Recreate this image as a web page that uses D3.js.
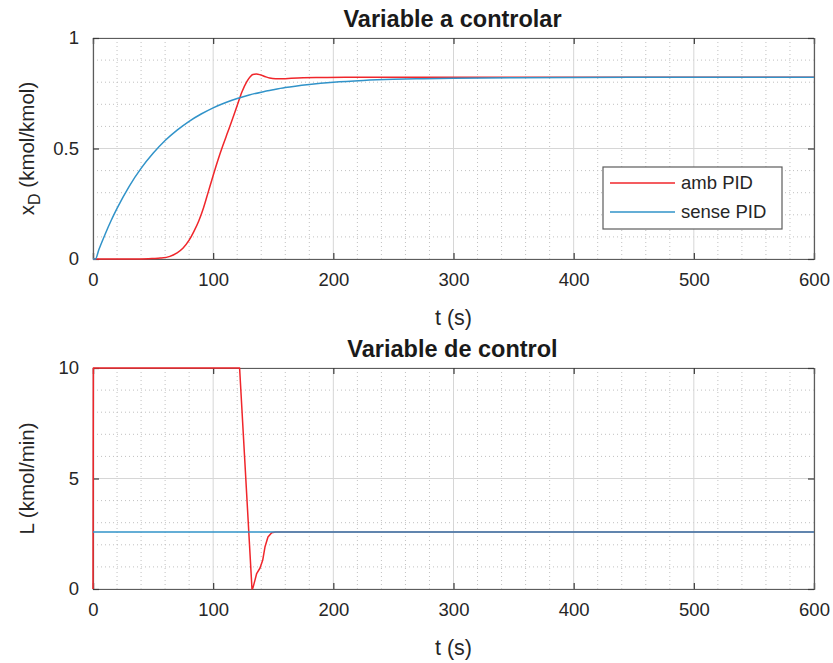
<!DOCTYPE html>
<html>
<head>
<meta charset="utf-8">
<script src="https://cdn.jsdelivr.net/npm/d3@7"></script>
<style>
  html, body { margin: 0; padding: 0; background: #fff; }
  svg { display: block; font-family: "Liberation Sans", Arial, Helvetica, sans-serif; }
</style>
</head>
<body>
<svg id="chart" width="833" height="663"></svg>
<script>
// Controlled variable x_D: closed loop with PID ("amb PID") and without it ("sense PID")
const tRedX = [0, 20, 40, 50, 56, 64, 70, 75, 80, 84, 88, 92, 96, 100, 104, 108, 112, 116, 120, 124, 128, 131, 133, 136, 139, 143, 147, 152, 158, 165, 175, 190, 210, 250, 300, 400, 500, 600];
const xRed  = [0, 0, 0, 0.002, 0.004, 0.012, 0.028, 0.05, 0.085, 0.125, 0.172, 0.232, 0.305, 0.378, 0.448, 0.512, 0.572, 0.632, 0.695, 0.757, 0.803, 0.826, 0.835, 0.837, 0.834, 0.826, 0.819, 0.816, 0.816, 0.818, 0.82, 0.821, 0.822, 0.822, 0.822, 0.822, 0.822, 0.822];
const tBlueX = [0, 2, 5, 10, 15, 20, 30, 40, 50, 60, 70, 80, 90, 100, 110, 120, 130, 140, 150, 160, 180, 200, 225, 250, 275, 300, 350, 400, 500, 600];
const xBlue  = [0, 0, 0.044, 0.111, 0.173, 0.229, 0.328, 0.41, 0.478, 0.536, 0.583, 0.623, 0.656, 0.684, 0.707, 0.726, 0.742, 0.755, 0.766, 0.776, 0.79, 0.8, 0.808, 0.813, 0.816, 0.818, 0.8205, 0.8215, 0.822, 0.822];

// Manipulated variable L (reflux flow)
const tRedL = [0, 0.3, 122, 132.3, 133.1, 134.8, 136.2, 139, 141.2, 143.1, 145.6, 148.7, 152, 600];
const lRed  = [0, 10, 10, 0, 0.05, 0.4, 0.7, 0.95, 1.3, 1.9, 2.35, 2.55, 2.58, 2.58];
const tBlueL = [0, 600];
const lBlue  = [2.58, 2.58];

const xTicks = [0, 100, 200, 300, 400, 500, 600];
const yTicksTop = [0, 0.5, 1];
const yTickLabelsTop = ["0", "0.5", "1"];
const yTicksBot = [0, 5, 10];
const yTickLabelsBot = ["0", "5", "10"];
const seriesNames = ["amb PID", "sense PID"];
const seriesColors = ["#f0262b", "#3193c9"];

const svg = d3.select("#chart");
const left = 93, right = 814;

function panel(opts) {
  const g = svg.append("g");
  const x = d3.scaleLinear().domain([0, 600]).range([left, right]);
  const y = d3.scaleLinear().domain(opts.yDomain).range([opts.bottom, opts.top]);

  // minor grid (dotted)
  const xMinor = d3.range(0, 601, 20).filter(v => v % 100 !== 0);
  const yMinor = d3.range(opts.yDomain[0], opts.yDomain[1] + 1e-9, opts.yMinorStep)
    .filter(v => !opts.yTicks.some(t => Math.abs(t - v) < 1e-9));
  g.append("g").selectAll("line").data(xMinor).join("line")
    .attr("x1", d => x(d)).attr("x2", d => x(d))
    .attr("y1", opts.top).attr("y2", opts.bottom)
    .attr("stroke", "#c0c0c0").attr("stroke-width", 1).attr("stroke-dasharray", "1,3");
  g.append("g").selectAll("line").data(yMinor).join("line")
    .attr("x1", left).attr("x2", right)
    .attr("y1", d => y(d)).attr("y2", d => y(d))
    .attr("stroke", "#c0c0c0").attr("stroke-width", 1).attr("stroke-dasharray", "1,3");

  // major grid
  g.append("g").selectAll("line").data(xTicks).join("line")
    .attr("x1", d => x(d)).attr("x2", d => x(d))
    .attr("y1", opts.top).attr("y2", opts.bottom)
    .attr("stroke", "#d6d6d6").attr("stroke-width", 1);
  g.append("g").selectAll("line").data(opts.yTicks).join("line")
    .attr("x1", left).attr("x2", right)
    .attr("y1", d => y(d)).attr("y2", d => y(d))
    .attr("stroke", "#d6d6d6").attr("stroke-width", 1);

  // axes with inward ticks on all four sides
  const tickLen = 6;
  const axB = d3.axisBottom(x).tickValues(xTicks).tickSize(-tickLen).tickPadding(14).tickFormat(d3.format("d"));
  const axT = d3.axisTop(x).tickValues(xTicks).tickSize(-tickLen).tickFormat("");
  const axL = d3.axisLeft(y).tickValues(opts.yTicks).tickSize(-tickLen).tickPadding(14)
    .tickFormat((d, i) => opts.yTickLabels[i]);
  const axR = d3.axisRight(y).tickValues(opts.yTicks).tickSize(-tickLen).tickFormat("");

  [[axB, `translate(0,${opts.bottom})`], [axT, `translate(0,${opts.top})`],
   [axL, `translate(${left},0)`], [axR, `translate(${right},0)`]].forEach(([ax, tr]) => {
    const a = g.append("g").attr("transform", tr).call(ax);
    a.select(".domain").attr("stroke", "#5c5c5c").attr("stroke-width", 1.2);
    a.selectAll(".tick line").attr("stroke", "#3a3a3a").attr("stroke-width", 1.2);
    a.selectAll(".tick text").attr("fill", "#262626").attr("font-size", 18.5)
      .attr("font-family", "'Liberation Sans', Arial, sans-serif");
  });

  // series, drawn over the axes box
  const line = d3.line().x(d => x(d[0])).y(d => y(d[1])).curve(opts.curve);
  opts.series.forEach((s, i) => {
    g.append("path")
      .datum(d3.zip(s.t, s.v))
      .attr("d", line)
      .attr("fill", "none")
      .attr("stroke", seriesColors[i])
      .attr("stroke-width", 1.5)
      .attr("stroke-linejoin", "round");
  });

  // title
  g.append("text").attr("x", (left + right) / 2 - 1).attr("y", opts.top - 11)
    .attr("text-anchor", "middle").attr("font-weight", "bold").attr("font-size", 23.5)
    .attr("fill", "#1a1a1a").text(opts.title);

  // x label
  g.append("text").attr("x", (left + right) / 2).attr("y", opts.bottom + 66)
    .attr("text-anchor", "middle").attr("font-size", 21.5).attr("fill", "#262626").text("t (s)");

  // y label
  const yl = g.append("text")
    .attr("transform", `translate(34,${(opts.top + opts.bottom) / 2}) rotate(-90)`)
    .attr("text-anchor", "middle").attr("font-size", 20.5).attr("fill", "#262626");
  opts.yLabel(yl);

  return { g, x, y };
}

const topPanel = panel({
  top: 38, bottom: 259, yDomain: [0, 1], yTicks: yTicksTop, yTickLabels: yTickLabelsTop, yMinorStep: 0.1,
  title: "Variable a controlar", curve: d3.curveMonotoneX,
  series: [{ t: tRedX, v: xRed }, { t: tBlueX, v: xBlue }],
  yLabel: t => {
    t.append("tspan").text("x");
    t.append("tspan").attr("font-size", 16).attr("dy", 6).text("D");
    t.append("tspan").attr("dy", -6).text(" (kmol/kmol)");
  }
});

panel({
  top: 368, bottom: 589, yDomain: [0, 10], yTicks: yTicksBot, yTickLabels: yTickLabelsBot, yMinorStep: 1,
  title: "Variable de control", curve: d3.curveLinear,
  series: [{ t: tRedL, v: lRed }, { t: tBlueL, v: lBlue }],
  yLabel: t => t.text("L (kmol/min)")
});

// legend (top panel)
const lg = topPanel.g.append("g").attr("transform", "translate(603,167)");
lg.append("rect").attr("width", 179).attr("height", 62)
  .attr("fill", "#fff").attr("stroke", "#5c5c5c").attr("stroke-width", 1.2);
seriesNames.forEach((name, i) => {
  const yy = 16 + i * 29;
  lg.append("line").attr("x1", 7).attr("x2", 72).attr("y1", yy).attr("y2", yy)
    .attr("stroke", seriesColors[i]).attr("stroke-width", 1.5);
  lg.append("text").attr("x", 78).attr("y", yy + 6).attr("font-size", 18.5)
    .attr("fill", "#262626").text(name);
});
</script>
</body>
</html>
